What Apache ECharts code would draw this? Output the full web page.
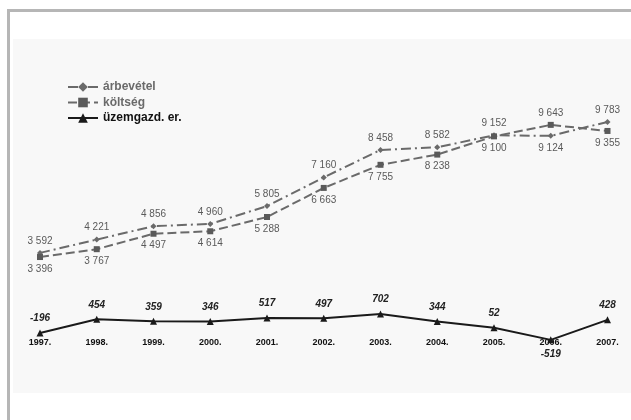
<!DOCTYPE html>
<html>
<head>
<meta charset="utf-8">
<script src="https://cdn.jsdelivr.net/npm/echarts@6/dist/echarts.min.js"></script>
<style>html,body{margin:0;padding:0;background:#fff;}#c{width:631px;height:420px;}</style>
</head>
<body>
<div id="c"></div>
<script>
var years = ['1997.', '1998.', '1999.', '2000.', '2001.', '2002.', '2003.', '2004.', '2005.', '2006.', '2007.'];
var arbevetel = [3592, 4221, 4856, 4960, 5805, 7160, 8458, 8582, 9152, 9124, 9783];
var koltseg = [3396, 3767, 4497, 4614, 5288, 6663, 7755, 8238, 9100, 9643, 9355];
var uzemgazd = [-196, 454, 359, 346, 517, 497, 702, 344, 52, -519, 428];
var seriesNames = ['árbevétel', 'költség', 'üzemgazd. er.'];

function fmt(v) { return String(v).replace(/\B(?=(\d{3})+(?!\d))/g, ' '); }

function withPos(values, defPos, altIdx, altPos) {
  return values.map(function (v, i) {
    return { value: v, label: { position: i === altIdx ? altPos : defPos } };
  });
}

var yMin = -1400, yMax = 12000, gridTop = 75, gridH = 283.5;
var zeroOffset = -gridH * (0 - yMin) / (yMax - yMin);

var chart = echarts.init(document.getElementById('c'), null, { renderer: 'canvas' });
var numLabel = {
  show: true, fontFamily: 'Liberation Sans, Arial', fontSize: 10, color: '#5a5a5a', distance: 4,
  formatter: function (p) { return fmt(p.value); }
};
chart.setOption({
  animation: false,
  backgroundColor: '#ffffff',
  graphic: [
    { type: 'rect', z: -10, silent: true, shape: { x: 8.5, y: 10.5, width: 700, height: 500 },
      style: { fill: '#ffffff', stroke: '#b6b6b6', lineWidth: 3 } },
    { type: 'rect', z: -9, silent: true, shape: { x: 13, y: 39, width: 640, height: 354 },
      style: { fill: '#f8f8f8' } }
  ],
  legend: {
    orient: 'vertical', left: 62, top: 76, itemWidth: 30, itemHeight: 12, itemGap: 3.5,
    textStyle: { fontFamily: 'Liberation Sans, Arial', fontSize: 12, fontWeight: 'bold', color: '#6a6a6a' },
    data: [
      { name: seriesNames[0] },
      { name: seriesNames[1] },
      { name: seriesNames[2], textStyle: { color: '#111111' } }
    ]
  },
  grid: { left: 40, right: 23.5, top: gridTop, height: gridH },
  xAxis: {
    type: 'category', data: years, boundaryGap: false, position: 'bottom', offset: zeroOffset,
    axisLine: { show: false, onZero: false }, axisTick: { show: false },
    axisLabel: { margin: 9, fontFamily: 'Liberation Sans, Arial', fontSize: 9, fontWeight: 'bold', color: '#111' },
    splitLine: { show: false }
  },
  yAxis: {
    type: 'value', min: yMin, max: yMax, show: false, splitLine: { show: false }
  },
  series: [
    {
      name: seriesNames[0], type: 'line', data: withPos(arbevetel, 'top', 9, 'bottom'),
      symbol: 'diamond', symbolSize: 6,
      lineStyle: { color: '#6a6a6a', width: 2, type: [10, 4, 2, 4] },
      itemStyle: { color: '#6a6a6a' },
      label: numLabel
    },
    {
      name: seriesNames[1], type: 'line', data: withPos(koltseg, 'bottom', 9, 'top'),
      symbol: 'rect', symbolSize: 6,
      lineStyle: { color: '#6a6a6a', width: 2, type: [9, 4] },
      itemStyle: { color: '#5a5a5a' },
      label: numLabel
    },
    {
      name: seriesNames[2], type: 'line', data: withPos(uzemgazd, 'top', 9, 'bottom'),
      symbol: 'triangle', symbolSize: 7,
      lineStyle: { color: '#1a1a1a', width: 2, type: 'solid' },
      itemStyle: { color: '#1a1a1a' },
      label: {
        show: true, fontFamily: 'Liberation Sans, Arial', fontSize: 10, fontWeight: 'bold', fontStyle: 'italic',
        color: '#222', distance: 6
      }
    }
  ]
});
</script>
</body>
</html>
